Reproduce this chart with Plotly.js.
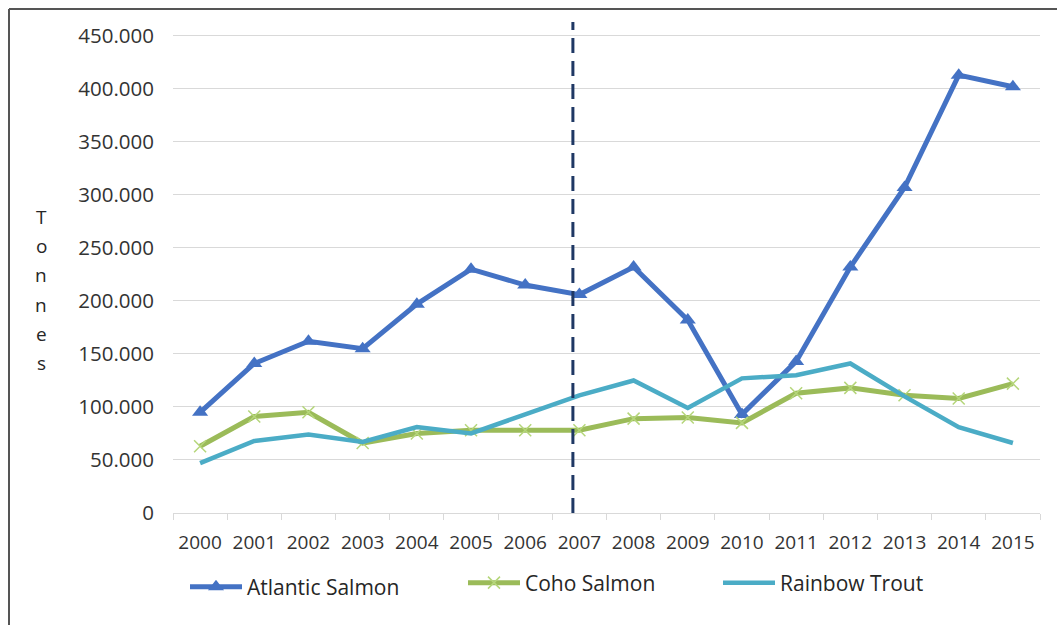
<!DOCTYPE html>
<html>
<head>
<meta charset="utf-8">
<script src="https://cdn.plot.ly/plotly-3.0.1.min.js"></script>
<style>
  html, body { margin: 0; padding: 0; background: #fff; }
  #chart { width: 1057px; height: 625px; }
</style>
</head>
<body>
<div id="chart"></div>
<script>
// ---- data (tonnes) ----
const years = ['2000','2001','2002','2003','2004','2005','2006','2007','2008','2009','2010','2011','2012','2013','2014','2015'];
const atlanticSalmon = [95000, 141000, 162000, 155000, 197000, 230000, 215000, 206000, 232000, 182000, 93000, 143000, 232000, 307000, 413000, 402000];
const cohoSalmon     = [63000, 91000, 95000, 66000, 75000, 78000, 78000, 78000, 89000, 90000, 85000, 113000, 118000, 111000, 108000, 122000];
const rainbowTrout   = [47000, 68000, 74000, 67000, 81000, 75000, 93000, 111000, 125000, 99000, 127000, 130000, 141000, 110000, 81000, 66000];
const seriesNames = ['Atlantic Salmon', 'Coho Salmon', 'Rainbow Trout'];
const yTitle = 'Tonnes';
const markerYear = '2007';

const W = 1057, H = 625;
const M = {l: 173, r: 17, t: 20, b: 112};
const pw = W - M.l - M.r, ph = H - M.t - M.b;
const px2x = p => (p - M.l) / pw;
const px2y = p => (H - M.b - p) / ph;

const FONT = 'Open Sans, Noto Sans, sans-serif';
const tickFont = {family: FONT, size: 19, color: '#333333'};
const legendFont = {family: FONT, size: 21, color: '#262626'};

const traces = [
  {
    x: years, y: atlanticSalmon, name: seriesNames[0], type: 'scatter', mode: 'lines+markers',
    line: {color: '#4472c4', width: 5},
    marker: {symbol: 'triangle-up', size: 14, color: '#4472c4'},
    legend: 'legend'
  },
  {
    x: years, y: cohoSalmon, name: seriesNames[1], type: 'scatter', mode: 'lines+markers',
    line: {color: '#9bbb59', width: 5},
    marker: {symbol: 'x-thin', size: 12, color: '#b5d67a', line: {color: '#b5d67a', width: 1.5}},
    legend: 'legend2'
  },
  {
    x: years, y: rainbowTrout, name: seriesNames[2], type: 'scatter', mode: 'lines',
    line: {color: '#4bacc6', width: 4.5},
    legend: 'legend3'
  }
];

const markerIdx = years.indexOf(markerYear) - 0.12;

const annotations = yTitle.split('').map((ch, i) => ({
  xref: 'paper', yref: 'paper', x: px2x(41), y: px2y(217 + i * 29.2),
  text: ch, showarrow: false, xanchor: 'center', yanchor: 'middle',
  font: {family: FONT, size: 19, color: '#262626'}
}));

const legendBase = {
  orientation: 'h', xanchor: 'left', yanchor: 'middle',
  font: legendFont, bgcolor: 'rgba(0,0,0,0)', borderwidth: 0, itemwidth: 52
};

const layout = {
  width: W, height: H,
  margin: M,
  paper_bgcolor: '#ffffff', plot_bgcolor: '#ffffff',
  separators: ',.',
  showlegend: true,
  xaxis: {
    type: 'category', range: [-0.5, years.length - 0.5],
    showgrid: false, zeroline: false,
    showline: true, linecolor: '#d9d9d9', linewidth: 1,
    ticks: 'outside', tickson: 'boundaries', ticklen: 6, tickcolor: '#d9d9d9', tickwidth: 1,
    tickfont: tickFont, ticklabelstandoff: 12,
    fixedrange: true
  },
  yaxis: {
    range: [0, 465000], dtick: 50000, tick0: 0,
    tickformat: ',.0f',
    showgrid: true, gridcolor: '#d9d9d9', gridwidth: 1,
    zeroline: false, showline: false, ticks: '',
    tickfont: Object.assign({}, tickFont, {size: 20.5}), ticklabelstandoff: 18,
    fixedrange: true
  },
  legend:  Object.assign({}, legendBase, {x: px2x(185), y: px2y(587)}),
  legend2: Object.assign({}, legendBase, {x: px2x(463), y: px2y(583)}),
  legend3: Object.assign({}, legendBase, {x: px2x(718), y: px2y(583)}),
  annotations: annotations,
  shapes: [
    {type: 'line', xref: 'x', yref: 'paper', x0: markerIdx, x1: markerIdx, y0: 0, y1: px2y(22),
     line: {color: '#1f3864', width: 3, dash: '15px,8px'}},
    {type: 'line', xref: 'paper', yref: 'paper', x0: px2x(9), x1: px2x(9), y0: px2y(9), y1: px2y(H + 5),
     line: {color: '#555555', width: 2}},
    {type: 'line', xref: 'paper', yref: 'paper', x0: px2x(9), x1: px2x(W + 5), y0: px2y(9), y1: px2y(9),
     line: {color: '#555555', width: 2}}
  ]
};

Plotly.newPlot('chart', traces, layout, {displayModeBar: false, staticPlot: true});
</script>
</body>
</html>
